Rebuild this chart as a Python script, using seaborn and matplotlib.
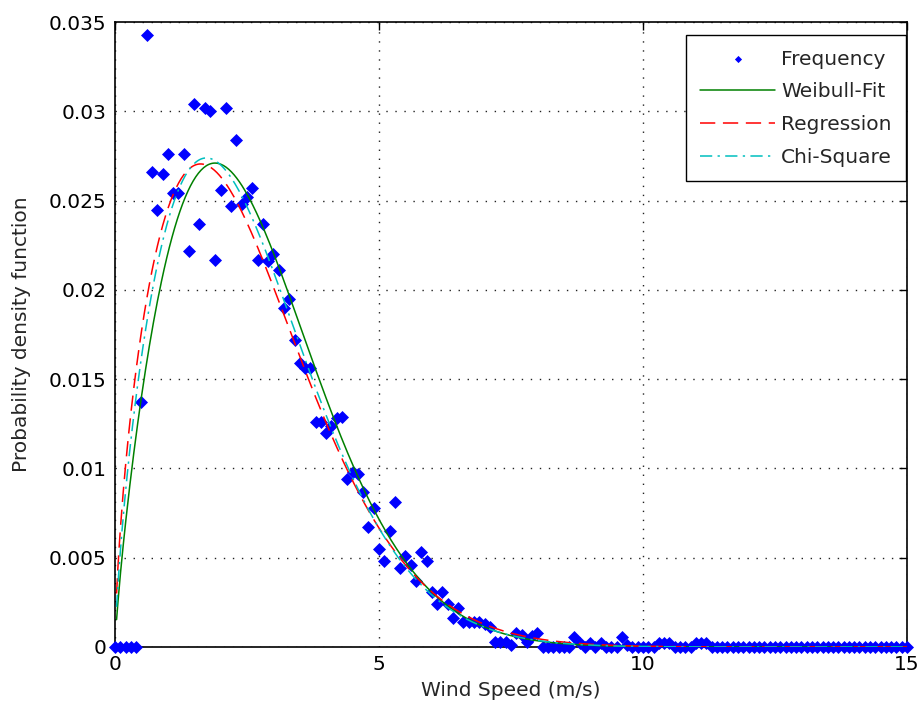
import numpy as np
import pandas as pd
import matplotlib
matplotlib.use("Agg")
import matplotlib.pyplot as plt
import seaborn as sns

# ---------------- data ----------------
# histogram bins (m/s), 0.1 m/s wide
wind_speed = np.round(np.arange(151) * 0.1, 1)
frequency = [
    0.0, 0.0, 0.0, 0.0, 0.0, 0.0137, 0.0343, 0.0266, 0.0245, 0.0265,   # 0.0-0.9
    0.0276, 0.0254, 0.0254, 0.0276, 0.0222, 0.0304, 0.0237, 0.0302, 0.0300, 0.0217,  # 1.0-1.9
    0.0256, 0.0302, 0.0247, 0.0284, 0.0248, 0.0252, 0.0257, 0.0217, 0.0237, 0.0216,  # 2.0-2.9
    0.0220, 0.0211, 0.0190, 0.0195, 0.0172, 0.0159, 0.0156, 0.0156, 0.0126, 0.0126,  # 3.0-3.9
    0.0120, 0.0124, 0.0128, 0.0129, 0.0094, 0.0098, 0.0097, 0.0087, 0.0067, 0.0078,  # 4.0-4.9
    0.0055, 0.0048, 0.0065, 0.0081, 0.0044, 0.0051, 0.0046, 0.0037, 0.0053, 0.0048,  # 5.0-5.9
    0.0031, 0.0024, 0.0031, 0.0024, 0.0016, 0.0022, 0.0014, 0.0014, 0.0014, 0.0014,  # 6.0-6.9
    0.0013, 0.0011, 0.0003, 0.0003, 0.0003, 0.0001, 0.0008, 0.0007, 0.0003, 0.0006,  # 7.0-7.9
    0.0008, 0.0, 0.0, 0.0, 0.0, 0.0, 0.0, 0.00055, 0.0002, 0.0,                       # 8.0-8.9
    0.0002, 0.0, 0.0002, 0.0, 0.0, 0.0, 0.00055, 0.00014, 0.0, 0.0,                   # 9.0-9.9
    0.0, 0.0, 0.0, 0.0002, 0.0002, 0.0002, 0.0, 0.0, 0.0, 0.0,                        # 10.0-10.9
    0.0002, 0.0002, 0.0002, 0.0, 0.0, 0.0, 0.0, 0.0, 0.0, 0.0,                        # 11.0-11.9
    0.0, 0.0, 0.0, 0.0, 0.0, 0.0, 0.0, 0.0, 0.0, 0.0,                                 # 12.0-12.9
    0.0, 0.0, 0.0, 0.0, 0.0, 0.0, 0.0, 0.0, 0.0, 0.0,                                 # 13.0-13.9
    0.0, 0.0, 0.0, 0.0, 0.0, 0.0, 0.0, 0.0, 0.0, 0.0,                                 # 14.0-14.9
    0.0,                                                                              # 15.0
]

# fitted Weibull distributions: shape k and scale c (m/s)
fit_labels = ["Weibull-Fit", "Regression", "Chi-Square"]
fit_shape = [1.80, 1.65, 1.72]
fit_scale = [2.97, 2.85, 2.87]
bin_width = 0.1

x_ticks = [0, 5, 10, 15]
y_ticks = [0, 0.005, 0.01, 0.015, 0.02, 0.025, 0.03, 0.035]
y_tick_labels = ["0", "0.005", "0.01", "0.015", "0.02", "0.025", "0.03", "0.035"]

# ---------------- styling ----------------
sns.set_style("white")
plt.rcParams["font.family"] = ["DejaVu Sans"]
FS = 14.5

fit_colors = ["#008000", "#FF0000", "#00BFBF"]
fit_styles = ["-", (0, (10, 5)), (0, (8, 3.5, 1.5, 3.5))]

fig = plt.figure(figsize=(9.2, 7.13), dpi=100)
ax = fig.add_axes([115 / 920, 1 - 647 / 713, (907 - 115) / 920, (647 - 22) / 713])

freq_df = pd.DataFrame({"speed": wind_speed, "freq": frequency})
sns.scatterplot(data=freq_df, x="speed", y="freq", ax=ax, marker="D", s=44,
                color="#0000FF", linewidth=0, clip_on=False, zorder=3,
                label="Frequency")

xs = np.linspace(0.03, 15, 600)
for lab, k, c, col, ls in zip(fit_labels, fit_shape, fit_scale, fit_colors, fit_styles):
    pdf = bin_width * (k / c) * (xs / c) ** (k - 1) * np.exp(-(xs / c) ** k)
    sns.lineplot(x=xs, y=pdf, ax=ax, color=col, linestyle=ls, linewidth=1.1,
                 label=lab, zorder=4)

ax.set_xlim(0, 15)
ax.set_ylim(0, 0.035)
ax.set_xticks(x_ticks)
ax.set_xticklabels([str(t) for t in x_ticks])
ax.set_yticks(y_ticks)
ax.set_yticklabels(y_tick_labels)
ax.tick_params(direction="in", length=6, width=1.0, labelsize=FS, colors="black",
               top=True, right=True, pad=6)
for sp in ax.spines.values():
    sp.set_color("black")
    sp.set_linewidth(1.2)
    sp.set_visible(True)
ax.grid(True, color="#222222", linestyle=(0, (1, 5.5)), linewidth=1.0)
ax.set_axisbelow(True)

ax.set_xlabel("Wind Speed (m/s)", fontsize=FS, labelpad=5)
ax.set_ylabel("Probability density function", fontsize=FS, labelpad=13)

leg = ax.legend(loc="upper right", bbox_to_anchor=(0.999, 0.979), borderaxespad=0,
                fontsize=FS, frameon=True, fancybox=False, framealpha=1,
                edgecolor="black", handlelength=3.7, handletextpad=0.3,
                labelspacing=0.68, borderpad=0.72, markerscale=0.55)
leg.get_frame().set_linewidth(1.0)

fig.savefig("out.png", dpi=100, facecolor="white")
